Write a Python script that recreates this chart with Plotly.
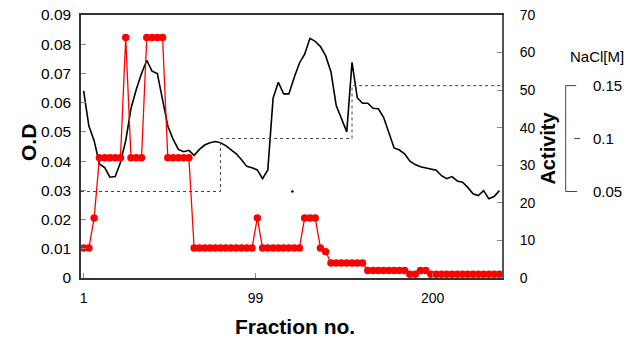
import plotly.graph_objects as go

# ---- data ----
fractions = list(range(1, 239, 3))  # 80 fractions, every 3rd

od_values = [
    0.0640, 0.0520, 0.0470, 0.0390, 0.0378, 0.0345, 0.0347, 0.0395, 0.0470, 0.0580,
    0.0645, 0.0700, 0.0745, 0.0708, 0.0700, 0.0605, 0.0520, 0.0475, 0.0440, 0.0432,
    0.0437, 0.0420, 0.0440, 0.0455, 0.0463, 0.0467, 0.0463, 0.0453, 0.0440, 0.0425,
    0.0405, 0.0382, 0.0377, 0.0370, 0.0340, 0.0370, 0.0615, 0.0670, 0.0630, 0.0630,
    0.0685, 0.0735, 0.0766, 0.0820, 0.0810, 0.0792, 0.0760, 0.0705, 0.0590, 0.0545,
    0.0500, 0.0738, 0.0617, 0.0598, 0.0598, 0.0581, 0.0579, 0.0550, 0.0500, 0.0445,
    0.0438, 0.0425, 0.0400, 0.0388, 0.0381, 0.0377, 0.0372, 0.0369, 0.0350, 0.0340,
    0.0347, 0.0332, 0.0328, 0.0310, 0.0288, 0.0282, 0.0299, 0.0271, 0.0279, 0.0299,
]

activity_values = [
    8, 8, 16, 32, 32, 32, 32, 32, 64, 32,
    32, 32, 64, 64, 64, 64, 32, 32, 32, 32,
    32, 8, 8, 8, 8, 8, 8, 8, 8, 8,
    8, 8, 8, 16, 8, 8, 8, 8, 8, 8,
    8, 8, 16, 16, 16, 8, 7, 4, 4, 4,
    4, 4, 4, 4, 2, 2, 2, 2, 2, 2,
    2, 2, 1, 1, 2, 2, 1, 1, 1, 1,
    1, 1, 1, 1, 1, 1, 1, 1, 1, 1,
]

nacl_fraction = [-0.5, 79, 154, 239.5]
nacl_conc = [0.05, 0.10, 0.15, 0.15]

stray_fraction = [120]
stray_conc = [0.05]

x_ticks = [1, 99, 200]
nacl_ticks = [0.05, 0.1, 0.15]
nacl_tick_text = ["0.05", "0.1", "0.15"]

FONT = "Liberation Sans, Arial, sans-serif"

fig = go.Figure()

fig.add_trace(go.Scatter(
    x=fractions, y=od_values, mode="lines",
    line=dict(color="black", width=1.6), yaxis="y", name="O.D"))

fig.add_trace(go.Scatter(
    x=fractions, y=activity_values, mode="lines+markers",
    line=dict(color="#ff0000", width=1.3),
    marker=dict(color="#ff0000", size=7.5, line=dict(width=0)),
    yaxis="y2", cliponaxis=False, name="Activity"))

fig.add_trace(go.Scatter(
    x=nacl_fraction, y=nacl_conc, mode="lines", line_shape="hv",
    line=dict(color="#444444", width=1, dash="dot"), yaxis="y3", name="NaCl"))

fig.add_trace(go.Scatter(
    x=stray_fraction, y=stray_conc, mode="markers",
    marker=dict(color="black", size=2.5), yaxis="y3", name="pt"))

axis_line = dict(showline=True, linecolor="#333333", linewidth=1.5,
                 showgrid=False, zeroline=False, ticks="inside",
                 tickcolor="#888888", ticklen=5, tickwidth=1, automargin=False)

fig.update_layout(
    width=628, height=338,
    margin=dict(l=81, r=126, t=15, b=60, autoexpand=False),
    plot_bgcolor="white", paper_bgcolor="white",
    showlegend=False,
    font=dict(family=FONT, color="black", size=14),
    xaxis=dict(range=[-0.5, 239.5], tickvals=x_ticks, mirror=True,
               tickfont=dict(size=14), ticklabelstandoff=6, **axis_line),
    yaxis=dict(range=[0, 0.09], dtick=0.01, tickfont=dict(size=15.5),
               ticklabelstandoff=5, **axis_line),
    yaxis2=dict(range=[0, 70], dtick=10, overlaying="y", side="right",
                tickfont=dict(size=14), ticklabelstandoff=13,
                **{**axis_line, "linecolor": "#555555", "linewidth": 2}),
    yaxis3=dict(range=[-0.0317, 0.2167], overlaying="y", visible=False),
)

# NaCl scale bracket
xb = 1.1513
shapes = [
    dict(type="line", xref="paper", yref="y3", x0=xb, x1=xb, y0=nacl_ticks[0], y1=nacl_ticks[-1],
         line=dict(color="#444444", width=1)),
    dict(type="line", xref="paper", yref="y3", x0=xb, x1=xb + 0.025, y0=nacl_ticks[-1], y1=nacl_ticks[-1],
         line=dict(color="#444444", width=1)),
    dict(type="line", xref="paper", yref="y3", x0=xb, x1=xb + 0.027, y0=nacl_ticks[0], y1=nacl_ticks[0],
         line=dict(color="#444444", width=1)),
    dict(type="line", xref="paper", yref="y3", x0=1.171, x1=1.1853, y0=nacl_ticks[1], y1=nacl_ticks[1],
         line=dict(color="#444444", width=1)),
]
fig.update_layout(shapes=shapes)

ann_common = dict(showarrow=False, xanchor="center", yanchor="middle")
annotations = [
    dict(text="<b>O.D</b>", x=-0.1259, y=0.517, xref="paper", yref="paper",
         textangle=-90, font=dict(size=21), **ann_common),
    dict(text="<b>Activity</b>", x=1.1105, y=0.494, xref="paper", yref="paper",
         textangle=-90, font=dict(size=20), **ann_common),
    dict(text="<b>Fraction no.</b>", x=0.5095, y=-0.185, xref="paper", yref="paper",
         font=dict(size=21), **ann_common),
    dict(text="NaCl[M]", x=1.226, y=0.844, xref="paper", yref="paper",
         font=dict(size=15), **ann_common),
]
for v, t in zip(nacl_ticks, nacl_tick_text):
    annotations.append(dict(text=t, x=1.211, y=v, xref="paper", yref="y3",
                            xanchor="left", yanchor="middle", showarrow=False,
                            font=dict(size=15)))
fig.update_layout(annotations=annotations)

fig.write_html("out.html", config={"displayModeBar": False},
               post_script="document.body.style.margin='0';")
